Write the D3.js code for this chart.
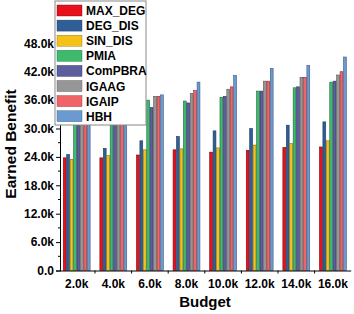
<!DOCTYPE html>
<html>
<head>
<meta charset="utf-8">
<script src="https://cdn.jsdelivr.net/npm/d3@7"></script>
<style>
  body { margin: 0; background: #fff; }
  text { font-family: Arial, "Liberation Sans", sans-serif; font-weight: bold; }
</style>
</head>
<body>
<div id="chart"></div>
<script>
var budgets = ['2.0k', '4.0k', '6.0k', '8.0k', '10.0k', '12.0k', '14.0k', '16.0k'];
var methods = ['MAX_DEG', 'DEG_DIS', 'SIN_DIS', 'PMIA', 'ComPBRA', 'IGAAG', 'IGAIP', 'HBH'];
var colors = ['#e8101a', '#2f5f96', '#f5c21b', '#3dba6c', '#5c5e9e', '#969696', '#f06468', '#6b9ad0'];
var strokes = ['#7a0a0e', '#1c3a5c', '#8a6d0c', '#1f6a3c', '#2f3060', '#555555', '#8a3033', '#3c5a80'];

// values per method, one entry per budget
var MAX_DEG = [23800, 23800, 24400, 25500, 25000, 25400, 26000, 26100];
var DEG_DIS = [24500, 25800, 27400, 28300, 29500, 30000, 30700, 31400];
var SIN_DIS = [23500, 24300, 25500, 25700, 25900, 26500, 26800, 27400];
var PMIA = [33000, 34000, 36000, 35800, 36600, 37900, 38600, 39800];
var ComPBRA = [32500, 34000, 34400, 35400, 36800, 37900, 38800, 40000];
var IGAAG = [33500, 34800, 36800, 37400, 38300, 40000, 40800, 41300];
var IGAIP = [34000, 35000, 36800, 38000, 38800, 40000, 40800, 42000];
var HBH = [35000, 36000, 37100, 39800, 41200, 42700, 43300, 45100];
var series = [MAX_DEG, DEG_DIS, SIN_DIS, PMIA, ComPBRA, IGAAG, IGAIP, HBH];
var yTicks = [0, 6000, 12000, 18000, 24000, 30000, 36000, 42000, 48000];

var w = 354, h = 314;
var svg = d3.select('#chart').append('svg').attr('width', w).attr('height', h);

var x0 = d3.scaleBand().domain(budgets).range([58.4, 351.2]).paddingInner(0.25).paddingOuter(0.125);
var x1 = d3.scaleBand().domain(methods).range([0, x0.bandwidth()]);
var y = d3.scaleLinear().domain([0, 54000]).range([270.5, 14.9]);

// bars
var groups = svg.selectAll('g.grp')
	.data(budgets)
	.enter()
	.append('g')
	.attr('class', 'grp')
	.attr('transform', function(d) { return 'translate(' + x0(d) + ',0)'; });

groups.selectAll('rect')
	.data(function(d, i) {
		return methods.map(function(m, j) { return { m: m, j: j, v: series[j][i] }; });
	})
	.enter()
	.append('rect')
	.attr('x', function(d) { return x1(d.m) + 0.3; })
	.attr('y', function(d) { return y(d.v); })
	.attr('width', x1.bandwidth() - 0.6)
	.attr('height', function(d) { return y(0) - y(d.v); })
	.attr('fill', function(d) { return colors[d.j]; })
	.attr('stroke', function(d) { return strokes[d.j]; })
	.attr('stroke-width', 0.6);

// y axis
var yAxis = d3.axisLeft(y).tickValues(yTicks).tickSizeOuter(0).tickSize(4)
	.tickFormat(function(d) { return d === 0 ? '0.0' : (d / 1000).toFixed(1) + 'k'; });
var gy = svg.append('g').attr('transform', 'translate(60,0)').call(yAxis);
gy.selectAll('text').attr('font-size', '12px').attr('fill', '#000').attr('x', -6);
gy.select('.domain').attr('stroke', '#000');
gy.selectAll('.minor')
	.data(d3.range(3000, 54000, 6000))
	.enter()
	.append('line')
	.attr('class', 'minor')
	.attr('x1', -2).attr('x2', 0)
	.attr('y1', function(d) { return y(d); })
	.attr('y2', function(d) { return y(d); })
	.attr('stroke', '#000');

// x axis
var xAxis = d3.axisBottom(x0).tickSize(0).tickSizeOuter(0);
var gx = svg.append('g').attr('transform', 'translate(0,' + y(0) + ')').call(xAxis);
gx.select('.domain').attr('d', 'M60,0.5H351.2').attr('stroke', '#000');
gx.selectAll('text').attr('font-size', '12px').attr('fill', '#000').attr('dy', '1.2em');
gx.selectAll('.sep')
	.data(budgets.slice(1))
	.enter()
	.append('line')
	.attr('class', 'sep')
	.attr('x1', function(d) { return x0(d) - x0.step() * 0.125; })
	.attr('x2', function(d) { return x0(d) - x0.step() * 0.125; })
	.attr('y1', 0).attr('y2', 3)
	.attr('stroke', '#000');

// axis titles
svg.append('text')
	.attr('transform', 'translate(16,144) rotate(-90)')
	.attr('text-anchor', 'middle')
	.attr('font-size', '15.5px')
	.text('Earned Benefit');
svg.append('text')
	.attr('x', 205).attr('y', 307)
	.attr('text-anchor', 'middle')
	.attr('font-size', '15px')
	.text('Budget');

// legend
var lg = svg.append('g').attr('transform', 'translate(55,1)');
lg.append('rect')
	.attr('x', 0).attr('y', 0)
	.attr('width', 91).attr('height', 124)
	.attr('fill', '#fff')
	.attr('stroke', '#888');
var items = lg.selectAll('g.item')
	.data(methods)
	.enter()
	.append('g')
	.attr('class', 'item')
	.attr('transform', function(d, i) { return 'translate(0,' + (4 + i * 15.1) + ')'; });
items.append('rect')
	.attr('x', 2).attr('y', 0)
	.attr('width', 25).attr('height', 11)
	.attr('fill', function(d, i) { return colors[i]; })
	.attr('stroke', function(d, i) { return strokes[i]; })
	.attr('stroke-width', 0.4);
items.append('text')
	.attr('x', 31).attr('y', 10)
	.attr('font-size', '12px')
	.text(function(d) { return d; });
</script>
</body>
</html>
